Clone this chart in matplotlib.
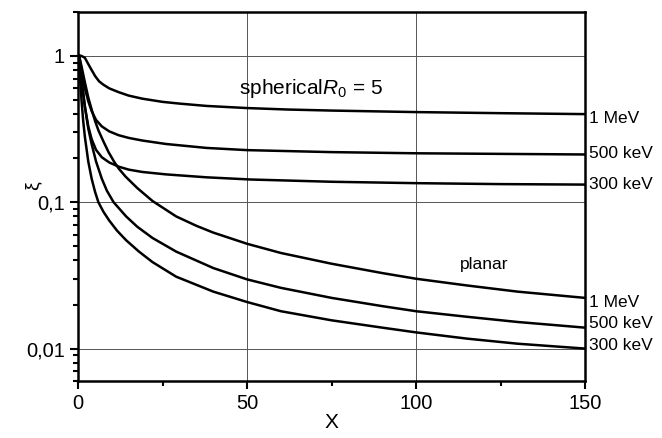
import numpy as np
import matplotlib
matplotlib.use("Agg")
import matplotlib.pyplot as plt
from matplotlib.ticker import FixedLocator, LogLocator, NullFormatter

plt.rcParams['font.family'] = ['Liberation Sans', 'DejaVu Sans']
plt.rcParams['mathtext.fontset'] = 'custom'
plt.rcParams['mathtext.rm'] = 'Liberation Sans'
plt.rcParams['mathtext.it'] = 'Liberation Sans:italic'

# spherical geometry, R0 = 5
x_sph_1mev = [0.3, 1, 2, 3, 4, 5, 6.2, 7.5, 9.2, 12, 15, 19, 25, 30, 38, 50, 62, 75, 100, 125, 150]
y_sph_1mev = [1.0, 1.0, 0.97, 0.88, 0.8, 0.73, 0.67, 0.635, 0.60, 0.565, 0.535, 0.51, 0.485, 0.472, 0.455, 0.44, 0.43, 0.423, 0.413, 0.406, 0.40]
x_sph_500 = [0.3, 1, 2, 3, 4, 5.3, 7, 9.2, 12, 15, 19, 26, 38, 50, 75, 100, 125, 150]
y_sph_500 = [1.0, 0.8, 0.6, 0.49, 0.42, 0.365, 0.33, 0.305, 0.287, 0.275, 0.264, 0.25, 0.235, 0.227, 0.22, 0.216, 0.214, 0.212]
x_sph_300 = [0.3, 1, 2, 3, 4, 5.3, 7, 9.2, 12, 15, 19, 26, 38, 51, 75, 100, 125, 150]
y_sph_300 = [1.0, 0.7, 0.45, 0.33, 0.27, 0.228, 0.203, 0.187, 0.175, 0.167, 0.161, 0.155, 0.148, 0.143, 0.138, 0.135, 0.133, 0.132]

# planar geometry
x_pl_1mev = [0.3, 1, 2, 3, 4, 5, 6, 7.5, 9, 10.6, 12, 14, 17.5, 22, 29, 35, 40, 50, 60, 75, 90, 100, 115, 130, 150]
y_pl_1mev = [1.0, 0.85, 0.66, 0.52, 0.43, 0.36, 0.31, 0.26, 0.22, 0.19, 0.17, 0.15, 0.125, 0.102, 0.080, 0.069, 0.062, 0.052, 0.045, 0.038, 0.0328, 0.030, 0.027, 0.0245, 0.0222]
x_pl_500 = [0.3, 1, 1.5, 2, 3, 4, 5.3, 7, 8.5, 10.5, 14.2, 17.5, 22, 29, 40, 50, 60, 75, 90, 100, 115, 130, 150]
y_pl_500 = [1.0, 0.7, 0.55, 0.45, 0.32, 0.25, 0.19, 0.145, 0.12, 0.1, 0.08, 0.068, 0.057, 0.046, 0.0355, 0.0297, 0.026, 0.0222, 0.0195, 0.018, 0.0165, 0.0152, 0.0139]
x_pl_300 = [0.2, 0.5, 1, 1.5, 2, 3, 4, 5, 6, 7.5, 9.2, 11.5, 14.2, 18, 22, 29, 40, 50, 60, 75, 90, 100, 115, 130, 150]
y_pl_300 = [1.0, 0.75, 0.5, 0.36, 0.28, 0.19, 0.145, 0.118, 0.1, 0.086, 0.075, 0.064, 0.055, 0.046, 0.039, 0.031, 0.0245, 0.0208, 0.018, 0.0156, 0.0139, 0.0129, 0.0117, 0.0108, 0.0100]

curves = [(x_sph_1mev, y_sph_1mev), (x_sph_500, y_sph_500), (x_sph_300, y_sph_300),
          (x_pl_1mev, y_pl_1mev), (x_pl_500, y_pl_500), (x_pl_300, y_pl_300)]
end_labels = ['1 MeV', '500 keV', '300 keV', '1 MeV', '500 keV', '300 keV']
label_y = [0.373, 0.215, 0.133, 0.0206, 0.0148, 0.0105]

fig = plt.figure(figsize=(6.62, 4.38), dpi=100)
ax = fig.add_axes([0.118, 0.130, 0.766, 0.843])

for (xs, ys), lab, ly in zip(curves, end_labels, label_y):
    ax.plot(xs, ys, color='black', lw=1.8, solid_joinstyle='round')
    ax.annotate(lab, xy=(150, ly), xytext=(3, 0), textcoords='offset points',
                ha='left', va='center', fontsize=12.5, annotation_clip=False)

ax.set_yscale('log')
ax.set_xlim(0, 150)
ax.set_ylim(0.006, 2)

ax.xaxis.set_major_locator(FixedLocator([0, 50, 100, 150]))
ax.xaxis.set_minor_locator(FixedLocator([25, 75, 125]))
ax.yaxis.set_major_locator(FixedLocator([0.01, 0.1, 1]))
ax.yaxis.set_minor_locator(LogLocator(base=10, subs=np.arange(2, 10)))
ax.yaxis.set_minor_formatter(NullFormatter())
ax.set_yticklabels(['0,01', '0,1', '1'])

ax.tick_params(which='both', direction='out', labelsize=14.5, width=1.5)
ax.tick_params(which='major', length=6)
ax.tick_params(which='minor', length=3.5)
for s in ax.spines.values():
    s.set_linewidth(1.8)

ax.grid(True, which='major', color='#555555', lw=0.7)

ax.set_xlabel('X', fontsize=15, labelpad=0)
ax.set_ylabel('ξ', fontsize=14, rotation=90)
ax.yaxis.set_label_coords(-0.073, 0.53)

ax.text(69, 0.6, r'spherical$R_0$ = 5', fontsize=15, ha='center', va='center')
ax.text(120, 0.0375, 'planar', fontsize=12.5, ha='center', va='center')

fig.savefig('out.png', dpi=100)
